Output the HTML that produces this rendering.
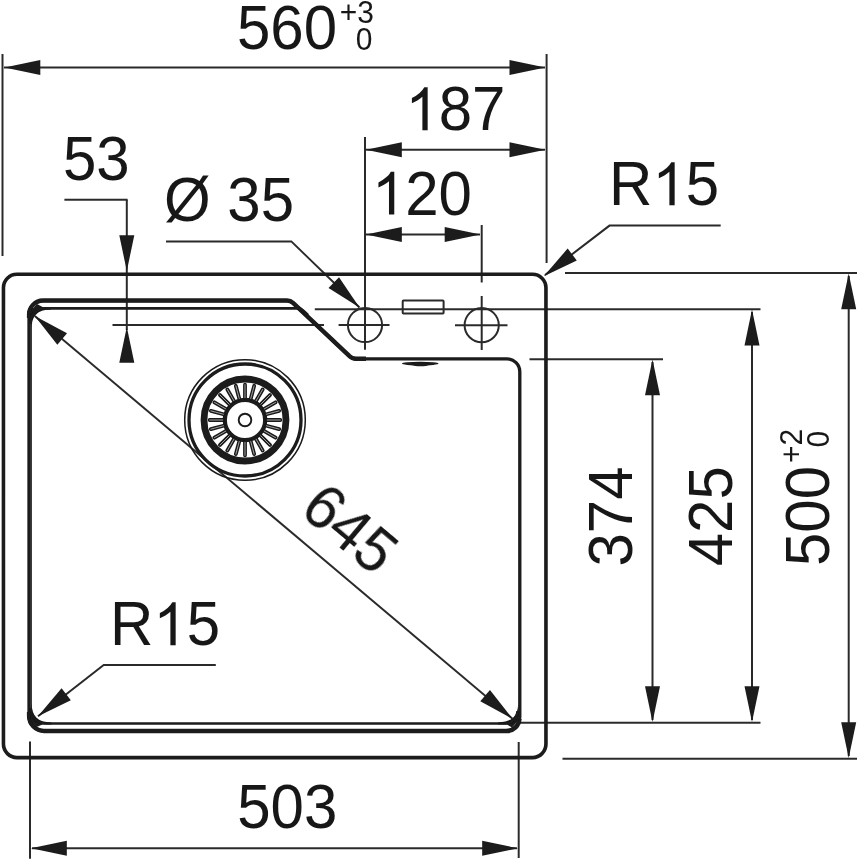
<!DOCTYPE html>
<html><head><meta charset="utf-8"><title>Sink dimension drawing</title>
<style>
html,body{margin:0;padding:0;background:#fff;}
body{width:860px;height:860px;overflow:hidden;font-family:"Liberation Sans",sans-serif;}
svg{display:block;}
</style></head><body>
<svg width="860" height="860" viewBox="0 0 860 860">
<defs><filter id="soft" x="0" y="0" width="860" height="860" filterUnits="userSpaceOnUse"><feGaussianBlur stdDeviation="0.45"/></filter></defs>
<rect width="860" height="860" fill="#ffffff"/>
<g filter="url(#soft)">
<g stroke="#2b2b2b" fill="none" stroke-width="2.0">
<line x1="2.5" y1="54" x2="2.5" y2="256"/>
<line x1="546.6" y1="54" x2="546.6" y2="263"/>
<line x1="4" y1="67.5" x2="545" y2="67.5"/>
<line x1="365" y1="137" x2="365" y2="349.7"/>
<line x1="366" y1="149.8" x2="545" y2="149.8"/>
<line x1="366" y1="234.5" x2="480" y2="234.5"/>
<line x1="481.7" y1="225" x2="481.7" y2="282.5"/>
<line x1="481.7" y1="296" x2="481.7" y2="350"/>
<line x1="64.4" y1="199.8" x2="127.6" y2="199.8"/>
<line x1="126.8" y1="199.8" x2="126.8" y2="330"/>
<line x1="112.5" y1="325" x2="324" y2="325"/>
<polyline points="166,241.4 291.3,241.4 359.5,307.5"/>
<circle cx="365" cy="325" r="17.1"/>
<line x1="338.6" y1="325" x2="389.5" y2="325"/>
<circle cx="481.7" cy="325.2" r="17.1"/>
<line x1="455" y1="325.2" x2="507.5" y2="325.2"/>
<rect x="402.7" y="300.6" width="40.9" height="13" rx="0.8"/>
<line x1="314.8" y1="309.3" x2="760.5" y2="309.3"/>
<line x1="529.5" y1="359.2" x2="663" y2="359.2"/>
<line x1="565" y1="273" x2="857" y2="273"/>
<polyline points="720.7,225.6 609.5,225.6 545,275"/>
<line x1="520" y1="722.8" x2="760.5" y2="722.8"/>
<line x1="562.5" y1="758.8" x2="857" y2="758.8"/>
<line x1="652.5" y1="362" x2="652.5" y2="720"/>
<line x1="752" y1="312" x2="752" y2="720"/>
<line x1="848.7" y1="276" x2="848.7" y2="756"/>
<line x1="30" y1="741.5" x2="30" y2="858.7"/>
<line x1="518.7" y1="742" x2="518.7" y2="858"/>
<line x1="32" y1="848.3" x2="517" y2="848.3"/>
<polyline points="215.8,664.9 103.7,664.9 38,716.3"/>
<line x1="34.8" y1="316" x2="512.5" y2="718.7"/>
</g>
<g fill="#1a1a1a" stroke="none">
<polygon points="4.50,67.50 40.30,60.00 40.30,75.00"/>
<polygon points="545.30,67.50 509.50,75.00 509.50,60.00"/>
<polygon points="366.00,149.80 401.80,142.30 401.80,157.30"/>
<polygon points="545.30,149.80 509.50,157.30 509.50,142.30"/>
<polygon points="366.00,234.50 401.80,227.00 401.80,242.00"/>
<polygon points="480.50,234.50 444.70,242.00 444.70,227.00"/>
<polygon points="126.80,271.00 119.30,235.20 134.30,235.20"/>
<polygon points="126.80,327.00 134.30,362.80 119.30,362.80"/>
<polygon points="359.50,307.50 328.57,287.97 339.01,277.20"/>
<polygon points="543.80,276.20 567.66,248.48 576.78,260.39"/>
<polygon points="38.00,716.30 61.57,688.33 70.82,700.15"/>
<polygon points="34.80,316.00 67.01,333.34 57.34,344.81"/>
<polygon points="512.50,718.70 480.29,701.36 489.96,689.89"/>
<polygon points="652.50,359.50 660.00,395.30 645.00,395.30"/>
<polygon points="652.50,722.00 645.00,686.20 660.00,686.20"/>
<polygon points="752.00,309.60 759.50,345.40 744.50,345.40"/>
<polygon points="752.00,722.00 744.50,686.20 759.50,686.20"/>
<polygon points="848.70,273.40 856.20,309.20 841.20,309.20"/>
<polygon points="848.70,758.00 841.20,722.20 856.20,722.20"/>
<polygon points="31.00,848.30 66.80,840.80 66.80,855.80"/>
<polygon points="518.00,848.30 482.20,855.80 482.20,840.80"/>
</g>
<g stroke="#1a1a1a" fill="none" stroke-linejoin="round">
<rect x="3.45" y="274.3" width="542.5" height="483.3" rx="13.5" ry="13.5" stroke-width="3.6"/>
<path d="M 43,300.7 L 287,300.7 Q 290.5,300.7 293,303 L 349,355.8 Q 352,358.8 356,358.8 L 507,358.8 A 13 13 0 0 1 519.8,371.8 L 519.8,716.5 A 14 14 0 0 1 505.8,730.7 L 43.5,730.7 A 14.5 14.5 0 0 1 29,716 L 29,314.7 A 14 14 0 0 1 43,300.7 Z" stroke-width="3.3"/>
<path d="M 29.1,318 L 29.1,314.7 A 14 14 0 0 1 43,300.5 L 287,300.5 Q 290.5,300.5 293,302.8 L 349,355.7 Q 352,358.7 356,358.7 L 366,358.7" stroke-width="4.4"/>
<path d="M 519.4,719 A 12.5 12.5 0 0 1 507,731 L 44,731 A 15 15 0 0 1 29.1,716 L 29.1,712" stroke-width="4.4"/>
<path d="M518.2,703 C518,716 512,722.3 498,722.4 L498,724.6 L507,724.6 L512,727.5 L518,721 L519,716 Z" fill="#1a1a1a" stroke="none"/>
<path d="M31.5,703 C31.7,716 37.5,722.3 51.5,722.4 L51.5,724.6 L42.5,724.6 L36.5,727 L31,721 L30.5,716 Z" fill="#1a1a1a" stroke="none"/>
<path d="M31.5,328 C31.7,316 37,309.6 51,309.4 L51,307.2 L43,307.2 L37,304 L31.5,310 L30.5,316 Z" fill="#1a1a1a" stroke="none"/>
<path d="M 31.1,714 L 31.1,320" stroke-width="1.5"/>
<path d="M 30.7,324 L 30.7,322 A 14 14 0 0 1 44.7,308.3 L 298.5,308.3 Q 301,308.5 303,310.4 L 308,315" stroke-width="2.7"/>
<path d="M 30.7,708 A 15.5 15.5 0 0 0 46.2,723.5 L 505,723.5 A 12 12 0 0 0 517.5,711" stroke-width="2.6"/>
<ellipse cx="420.2" cy="363.6" rx="18.3" ry="1.9" fill="#1a1a1a" stroke="none"/>
<ellipse cx="420.5" cy="364.3" rx="8.5" ry="2" fill="#1a1a1a" stroke="none"/>
</g>
<g stroke="#1a1a1a" fill="none">
<circle cx="245" cy="420" r="60.3" stroke-width="1.5"/>
<circle cx="245" cy="420" r="56" stroke-width="3.3"/>
<circle cx="245" cy="420" r="41" stroke-width="6.8"/>
<circle cx="245" cy="420" r="20.2" stroke-width="4.2"/>
<circle cx="245" cy="420" r="6.3" stroke-width="1.9"/>
<path d="M267.30,420.00L280.30,420.00M266.54,425.77L279.10,429.14M264.31,431.15L275.57,437.65M260.77,435.77L269.96,444.96M256.15,439.31L262.65,450.57M250.77,441.54L254.14,454.10M245.00,442.30L245.00,455.30M239.23,441.54L235.86,454.10M233.85,439.31L227.35,450.57M229.23,435.77L220.04,444.96M225.69,431.15L214.43,437.65M223.46,425.77L210.90,429.14M222.70,420.00L209.70,420.00M223.46,414.23L210.90,410.86M225.69,408.85L214.43,402.35M229.23,404.23L220.04,395.04M233.85,400.69L227.35,389.43M239.23,398.46L235.86,385.90M245.00,397.70L245.00,384.70M250.77,398.46L254.14,385.90M256.15,400.69L262.65,389.43M260.77,404.23L269.96,395.04M264.31,408.85L275.57,402.35M266.54,414.23L279.10,410.86" stroke-width="3.8" stroke-linecap="round"/>
<path d="M267.30,420.00L280.30,420.00M266.54,425.77L279.10,429.14M264.31,431.15L275.57,437.65M260.77,435.77L269.96,444.96M256.15,439.31L262.65,450.57M250.77,441.54L254.14,454.10M245.00,442.30L245.00,455.30M239.23,441.54L235.86,454.10M233.85,439.31L227.35,450.57M229.23,435.77L220.04,444.96M225.69,431.15L214.43,437.65M223.46,425.77L210.90,429.14M222.70,420.00L209.70,420.00M223.46,414.23L210.90,410.86M225.69,408.85L214.43,402.35M229.23,404.23L220.04,395.04M233.85,400.69L227.35,389.43M239.23,398.46L235.86,385.90M245.00,397.70L245.00,384.70M250.77,398.46L254.14,385.90M256.15,400.69L262.65,389.43M260.77,404.23L269.96,395.04M264.31,408.85L275.57,402.35M266.54,414.23L279.10,410.86" stroke="#b0b0b0" stroke-width="0.9" stroke-linecap="round"/>
</g>
<g fill="#1a1a1a" stroke="none" font-family="Liberation Sans, sans-serif" font-size="60" opacity="0.999" style="white-space:pre">
<g transform="translate(237,49.3) scale(1,1.04)" font-size="60"><text x="0.00" y="0">560</text></g>
<g transform="translate(339.8,23.3) scale(1,1.04)" font-size="30"><text x="0.00" y="0">+3</text></g>
<g transform="translate(355.7,49.8) scale(1,1.04)" font-size="30"><text x="0.00" y="0">0</text></g>
<g transform="translate(505.4,130.3) scale(1,1.04)" font-size="60"><path transform="translate(-100.08,0) scale(0.02930,-0.02806)" d="M763 0H583V1147Q518 1085 412.5 1023T223 930V1104Q374 1175 487 1276T647 1472H763Z"/><text x="-66.72" y="0">87</text></g>
<g transform="translate(63,180.3) scale(1,1.04)" font-size="60"><text x="0.00" y="0">53</text></g>
<g transform="translate(164,220.5) scale(1,1.04)" font-size="60"><text x="0.00" y="0">Ø 35</text></g>
<g transform="translate(371.9,214.6) scale(1,1.04)" font-size="60"><path transform="translate(0.00,0) scale(0.02930,-0.02806)" d="M763 0H583V1147Q518 1085 412.5 1023T223 930V1104Q374 1175 487 1276T647 1472H763Z"/><text x="33.36" y="0">20</text></g>
<g transform="translate(609,205.3) scale(1,1.04)" font-size="60"><text x="0.00" y="0">R</text><path transform="translate(43.32,0) scale(0.02930,-0.02806)" d="M763 0H583V1147Q518 1085 412.5 1023T223 930V1104Q374 1175 487 1276T647 1472H763Z"/><text x="76.68" y="0">5</text></g>
<g transform="translate(110,645.3) scale(1,1.04)" font-size="60"><text x="0.00" y="0">R</text><path transform="translate(43.32,0) scale(0.02930,-0.02806)" d="M763 0H583V1147Q518 1085 412.5 1023T223 930V1104Q374 1175 487 1276T647 1472H763Z"/><text x="76.68" y="0">5</text></g>
<g transform="translate(237.2,828) scale(1,1.04)" font-size="60"><text x="0.00" y="0">503</text></g>
<g transform="translate(336.3,545) rotate(40.13) scale(1,1.04)" font-size="60"><text x="-50.04" y="0">645</text></g>
<g transform="translate(632.3,566.5) rotate(-90) scale(1,1.04)" font-size="60"><text x="0.00" y="0">374</text></g>
<g transform="translate(732.3,566.3) rotate(-90) scale(1,1.04)" font-size="60"><text x="0.00" y="0">425</text></g>
<g transform="translate(828.8,566) rotate(-90) scale(1,1.04)" font-size="60"><text x="0.00" y="0">500</text></g>
<g transform="translate(802.3,463) rotate(-90) scale(1,1.04)" font-size="30"><text x="0.00" y="0">+2</text></g>
<g transform="translate(829.3,447.5) rotate(-90) scale(1,1.04)" font-size="30"><text x="0.00" y="0">0</text></g>
</g>
</g>
</svg>
</body></html>
